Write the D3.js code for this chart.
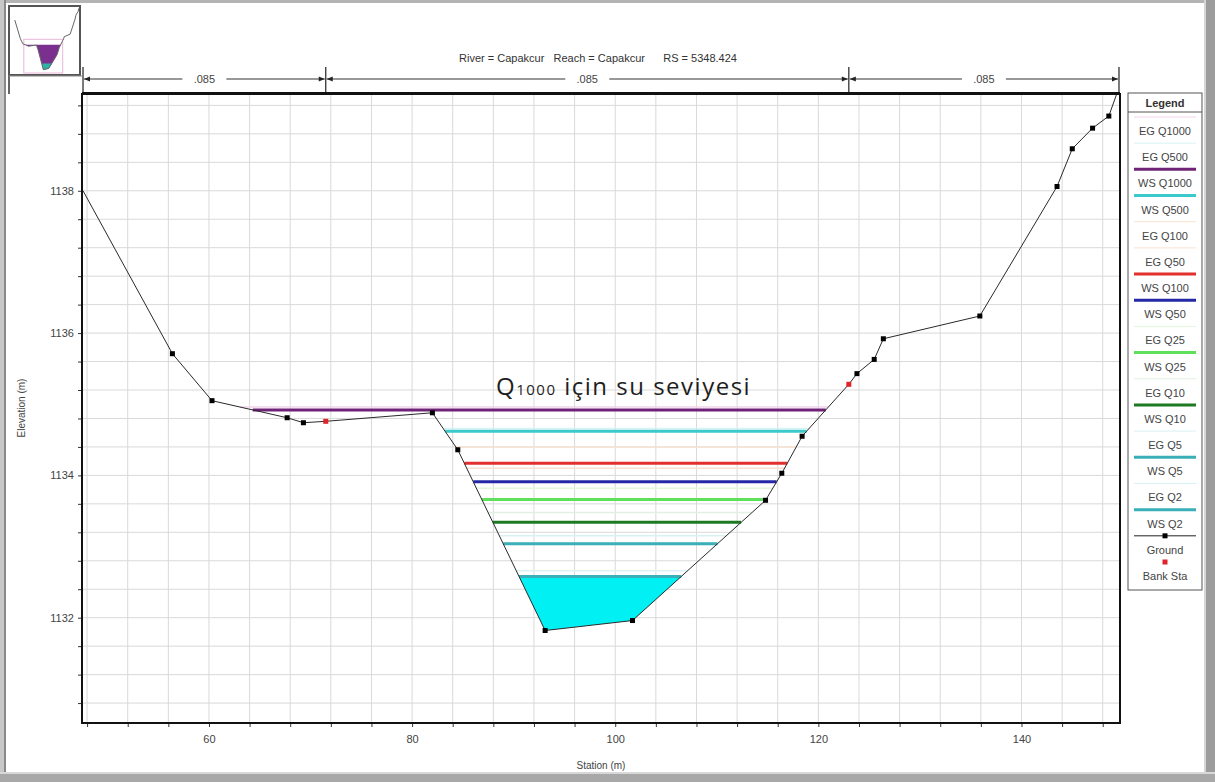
<!DOCTYPE html>
<html>
<head>
<meta charset="utf-8">
<script src="https://cdn.jsdelivr.net/npm/d3@7"></script>
<style>
  html, body { margin: 0; padding: 0; background: #fff; }
  svg { display: block; font-family: "Liberation Sans", Arial, sans-serif; }
</style>
</head>
<body>
<svg id="chart" width="1215" height="782"></svg>
<script>
// Cross-section ground survey (station m, elevation m)
const stations   = [47.6, 56.4, 60.3, 67.7, 69.3, 71.5, 82.0, 84.5, 93.1, 101.7, 114.8, 116.4, 118.4, 123.0, 123.8, 125.5, 126.4, 135.9, 143.5, 145.0, 147.0, 148.6, 149.6];
const elevations = [1138.00, 1135.71, 1135.05, 1134.81, 1134.74, 1134.76, 1134.88, 1134.36, 1131.82, 1131.96, 1133.65, 1134.03, 1134.55, 1135.28, 1135.43, 1135.63, 1135.92, 1136.24, 1138.06, 1138.59, 1138.88, 1139.05, 1139.45];
const bankStations = [71.5, 123.0];

// Manning's n segments
const nBreaks = [47.6, 71.5, 123.0, 149.6];
const nValues = [".085", ".085", ".085"];

// Water surface profiles (m)
const wsNames  = ["WS Q1000", "WS Q500", "WS Q100", "WS Q50", "WS Q25", "WS Q10", "WS Q5", "WS Q2"];
const wsLevels = [1134.92, 1134.62, 1134.17, 1133.91, 1133.66, 1133.34, 1133.04, 1132.58];
const wsColors = ["#6e2377", "#3cc9cc", "#e2302e", "#2428a6", "#5ee05a", "#1d7a22", "#3aafb8", "#3aafb8"];

// Energy grade lines (m)
const egNames  = ["EG Q1000", "EG Q500", "EG Q100", "EG Q50", "EG Q25", "EG Q10", "EG Q5", "EG Q2"];
const egLevels = [1134.96, 1134.66, 1134.40, 1134.10, 1133.82, 1133.48, 1133.15, 1132.66];
const egColors = ["#f3d3ec", "#d6f4f4", "#f8e2cf", "#f8e2cf", "#e2f7dc", "#e2f0e2", "#d9f1f3", "#d9f1f3"];

// Legend order
const legendItems = [
  {name: "EG Q1000", type: "eg", i: 0}, {name: "EG Q500", type: "eg", i: 1},
  {name: "WS Q1000", type: "ws", i: 0}, {name: "WS Q500", type: "ws", i: 1},
  {name: "EG Q100", type: "eg", i: 2}, {name: "EG Q50", type: "eg", i: 3},
  {name: "WS Q100", type: "ws", i: 2}, {name: "WS Q50", type: "ws", i: 3},
  {name: "EG Q25", type: "eg", i: 4}, {name: "WS Q25", type: "ws", i: 4},
  {name: "EG Q10", type: "eg", i: 5}, {name: "WS Q10", type: "ws", i: 5},
  {name: "EG Q5", type: "eg", i: 6}, {name: "WS Q5", type: "ws", i: 6},
  {name: "EG Q2", type: "eg", i: 7}, {name: "WS Q2", type: "ws", i: 7},
  {name: "Ground", type: "ground"}, {name: "Bank Sta", type: "bank"}
];

const xTicksMajor = [60, 80, 100, 120, 140];
const yTicksMajor = [1132, 1134, 1136, 1138];

const titleText = "River = Capakcur   Reach = Capakcur      RS = 5348.424";

const svg = d3.select("#chart");
const W = 1215, H = 782;
const plot = {left: 82, top: 94, right: 1120, bottom: 723};

const x = d3.scaleLinear().domain([47.5, 149.7]).range([plot.left, plot.right]);
const y = d3.scaleLinear().domain([1130.52, 1139.36]).range([plot.bottom, plot.top]);

const ground = stations.map((s, i) => ({s, z: elevations[i]}));
const groundAt = s => {
  for (let i = 0; i < ground.length - 1; i++) {
    const a = ground[i], b = ground[i + 1];
    if (s >= a.s && s <= b.s) return a.z + (b.z - a.z) * (s - a.s) / (b.s - a.s);
  }
  return ground[ground.length - 1].z;
};

// Find the wetted extent of a level, walking outward from the thalweg
const iMin = d3.minIndex(ground, d => d.z);
function extent(level) {
  let l = iMin; while (l > 0 && ground[l - 1].z < level) l--;
  let r = iMin; while (r < ground.length - 1 && ground[r + 1].z < level) r++;
  let sl = ground[0].s, sr = ground[ground.length - 1].s;
  if (l > 0) { const a = ground[l - 1], b = ground[l]; sl = a.s + (a.z - level) / (a.z - b.z) * (b.s - a.s); }
  if (r < ground.length - 1) { const a = ground[r], b = ground[r + 1]; sr = a.s + (level - a.z) / (b.z - a.z) * (b.s - a.s); }
  return {sl, sr, l, r};
}

// ---------- window frame ----------
svg.append("rect").attr("x", 0).attr("y", 0).attr("width", W).attr("height", H).attr("fill", "#fff");
svg.append("rect").attr("x", 0).attr("y", 0).attr("width", W).attr("height", 3).attr("fill", "#b4b4b4");
svg.append("rect").attr("x", 0).attr("y", 0).attr("width", 4).attr("height", H).attr("fill", "#c8c8c8");
svg.append("rect").attr("x", 4).attr("y", 0).attr("width", 2).attr("height", H).attr("fill", "#8a8a8a");
svg.append("rect").attr("x", 1206).attr("y", 0).attr("width", 9).attr("height", H).attr("fill", "#9c9c9c");
svg.append("rect").attr("x", 1204).attr("y", 0).attr("width", 2).attr("height", H).attr("fill", "#d6d6d6");
svg.append("rect").attr("x", 0).attr("y", 774).attr("width", W).attr("height", 8).attr("fill", "#a8a8a8");
svg.append("rect").attr("x", 0).attr("y", 772).attr("width", W).attr("height", 2).attr("fill", "#d8d8d8");

// ---------- thumbnail ----------
const thumb = {left: 9, top: 6, right: 80, bottom: 75};
svg.append("rect").attr("x", thumb.left).attr("y", thumb.top)
  .attr("width", thumb.right - thumb.left).attr("height", thumb.bottom - thumb.top)
  .attr("fill", "#fff").attr("stroke", "#555").attr("stroke-width", 2);
svg.append("line").attr("x1", thumb.left).attr("x2", thumb.left).attr("y1", thumb.bottom).attr("y2", 94)
  .attr("stroke", "#666").attr("stroke-width", 2);
svg.append("line").attr("x1", thumb.left).attr("x2", plot.left).attr("y1", thumb.bottom + 1).attr("y2", thumb.bottom + 1)
  .attr("stroke", "#888").attr("stroke-width", 1);
const tx = d3.scaleLinear().domain([40, 150]).range([thumb.left + 1, thumb.right - 1]);
const ty = d3.scaleLinear().domain([1131.4, 1139.5]).range([thumb.bottom - 2, thumb.top + 2]);
{
  const e = extent(wsLevels[0]);
  const pts = [{s: e.sl, z: wsLevels[0]}].concat(ground.slice(e.l, e.r + 1)).concat([{s: e.sr, z: wsLevels[0]}]);
  svg.append("path").attr("d", d3.line().x(d => tx(d.s)).y(d => ty(d.z))(pts) + "Z").attr("fill", "#7b2f8e");
  const e2 = extent(wsLevels[7]);
  const pts2 = [{s: e2.sl, z: wsLevels[7]}].concat(ground.slice(e2.l, e2.r + 1)).concat([{s: e2.sr, z: wsLevels[7]}]);
  svg.append("path").attr("d", d3.line().x(d => tx(d.s)).y(d => ty(d.z))(pts2) + "Z").attr("fill", "#2fb3a8");
  svg.append("rect").attr("x", tx(62)).attr("y", ty(1135.6)).attr("width", tx(124) - tx(62)).attr("height", ty(1131.4) - ty(1135.6))
    .attr("fill", "none").attr("stroke", "#e8b7d8").attr("stroke-width", 1);
  svg.append("path").attr("d", d3.line().x(d => tx(d.s)).y(d => ty(d.z))(ground))
    .attr("fill", "none").attr("stroke", "#666").attr("stroke-width", 1);
}

// ---------- title ----------
svg.append("text").attr("x", 598).attr("y", 62).attr("text-anchor", "middle")
  .attr("font-size", 11).attr("fill", "#333").attr("xml:space", "preserve").text(titleText);

// ---------- Manning's n bar ----------
const nY = 79;
const defs = svg.append("defs");
defs.append("marker").attr("id", "arr").attr("viewBox", "0 0 10 10").attr("refX", 10).attr("refY", 5)
  .attr("markerWidth", 7).attr("markerHeight", 6).attr("orient", "auto-start-reverse")
  .append("path").attr("d", "M0,1 L10,5 L0,9 Z").attr("fill", "#222");
nBreaks.forEach(s => {
  svg.append("line").attr("x1", x(s)).attr("x2", x(s)).attr("y1", 67).attr("y2", 92)
    .attr("stroke", "#222").attr("stroke-width", 1.2);
});
nValues.forEach((v, i) => {
  const a = x(nBreaks[i]) + 1, b = x(nBreaks[i + 1]) - 1, m = (a + b) / 2;
  svg.append("line").attr("x1", m - 22).attr("x2", a).attr("y1", nY).attr("y2", nY)
    .attr("stroke", "#333").attr("stroke-width", 1).attr("marker-end", "url(#arr)");
  svg.append("line").attr("x1", m + 22).attr("x2", b).attr("y1", nY).attr("y2", nY)
    .attr("stroke", "#333").attr("stroke-width", 1).attr("marker-end", "url(#arr)");
  svg.append("text").attr("x", m).attr("y", nY + 4).attr("text-anchor", "middle")
    .attr("font-size", 11).attr("fill", "#444").text(v);
});

// ---------- grid ----------
const clip = defs.append("clipPath").attr("id", "plotclip");
clip.append("rect").attr("x", plot.left).attr("y", plot.top).attr("width", plot.right - plot.left).attr("height", plot.bottom - plot.top);

const gGrid = svg.append("g");
const xMinor = d3.range(48, 150, 4);
const yMinor = d3.range(1130.8, 1139.3, 0.4);
gGrid.selectAll("line.v").data(xMinor).join("line")
  .attr("x1", d => x(d)).attr("x2", d => x(d)).attr("y1", plot.top).attr("y2", plot.bottom)
  .attr("stroke", "#d9d9d9").attr("stroke-width", 1);
gGrid.selectAll("line.h").data(yMinor).join("line")
  .attr("x1", plot.left).attr("x2", plot.right).attr("y1", d => y(d)).attr("y2", d => y(d))
  .attr("stroke", "#d9d9d9").attr("stroke-width", 1);

// ---------- axes ----------
const xAxis = d3.axisBottom(x).tickValues(xMinor).tickSize(4)
  .tickFormat(d => xTicksMajor.includes(d) ? d : "");
const gx = svg.append("g").attr("transform", `translate(0,${plot.bottom})`).call(xAxis);
gx.select(".domain").remove();
gx.selectAll("line").attr("stroke", "#333");
gx.selectAll("text").attr("font-size", 11).attr("fill", "#444").attr("dy", "1.2em")
  .attr("font-family", "Liberation Sans, Arial, sans-serif");

const yAxis = d3.axisLeft(y).tickValues(yMinor).tickSize(4)
  .tickFormat(d => yTicksMajor.some(t => Math.abs(t - d) < 1e-6) ? d3.format("d")(Math.round(d)) : "");
const gy = svg.append("g").attr("transform", `translate(${plot.left},0)`).call(yAxis);
gy.select(".domain").remove();
gy.selectAll("line").attr("stroke", "#333");
gy.selectAll("text").attr("font-size", 11).attr("fill", "#444").attr("dx", "-0.1em")
  .attr("font-family", "Liberation Sans, Arial, sans-serif");

svg.append("text").attr("x", 601).attr("y", 769).attr("text-anchor", "middle")
  .attr("font-size", 10).attr("fill", "#444").text("Station (m)");
svg.append("text").attr("transform", `translate(25,408) rotate(-90)`).attr("text-anchor", "middle")
  .attr("font-size", 10).attr("fill", "#444").text("Elevation (m)");

// ---------- data marks ----------
const gData = svg.append("g").attr("clip-path", "url(#plotclip)");

// Fill for the lowest profile
{
  const lvl = wsLevels[7], e = extent(lvl);
  const pts = [{s: e.sl, z: lvl}].concat(ground.slice(e.l, e.r + 1)).concat([{s: e.sr, z: lvl}]);
  gData.append("path").attr("d", d3.line().x(d => x(d.s)).y(d => y(d.z))(pts) + "Z")
    .attr("fill", "#00f0f4");
}

// Energy grade lines
egLevels.forEach((lvl, i) => {
  const e = extent(lvl);
  gData.append("line").attr("x1", x(e.sl)).attr("x2", x(e.sr)).attr("y1", y(lvl)).attr("y2", y(lvl))
    .attr("stroke", egColors[i]).attr("stroke-width", 1.5);
});

// Water surface lines
wsLevels.forEach((lvl, i) => {
  const e = extent(lvl);
  gData.append("line").attr("x1", x(e.sl)).attr("x2", x(e.sr)).attr("y1", y(lvl)).attr("y2", y(lvl))
    .attr("stroke", wsColors[i]).attr("stroke-width", 3);
});

// Ground line and survey points
gData.append("path").attr("d", d3.line().x(d => x(d.s)).y(d => y(d.z))(ground))
  .attr("fill", "none").attr("stroke", "#2a2a2a").attr("stroke-width", 1);
gData.selectAll("rect.pt").data(ground.filter(d => !bankStations.includes(d.s) && d.s > 48 && d.s < 149.5)).join("rect")
  .attr("x", d => x(d.s) - 2.5).attr("y", d => y(d.z) - 2.5).attr("width", 5).attr("height", 5)
  .attr("fill", "#000");
gData.selectAll("rect.bank").data(bankStations).join("rect")
  .attr("x", d => x(d) - 2.5).attr("y", d => y(groundAt(d)) - 2.5).attr("width", 5).attr("height", 5)
  .attr("fill", "#e0252a");

// Plot frame
svg.append("rect").attr("x", plot.left).attr("y", plot.top).attr("width", plot.right - plot.left).attr("height", plot.bottom - plot.top)
  .attr("fill", "none").attr("stroke", "#111").attr("stroke-width", 2);
svg.append("line").attr("x1", plot.left).attr("x2", plot.right).attr("y1", plot.top - 1).attr("y2", plot.top - 1)
  .attr("stroke", "#111").attr("stroke-width", 2);

// ---------- annotation ----------
const ann = svg.append("text").attr("x", 496).attr("y", 395).attr("font-family", "'Open Sans', Lato, sans-serif")
  .attr("font-size", 24).attr("letter-spacing", 1.5).attr("fill", "#1e1e1e");
ann.append("tspan").text("Q");
ann.append("tspan").attr("font-size", 15).text("1000");
ann.append("tspan").attr("xml:space", "preserve").text(" için su seviyesi");

// ---------- legend ----------
const lg = {left: 1128, top: 93, right: 1202, bottom: 590};
svg.append("rect").attr("x", lg.left).attr("y", lg.top).attr("width", lg.right - lg.left).attr("height", lg.bottom - lg.top)
  .attr("fill", "#fff").attr("stroke", "#555").attr("stroke-width", 1);
svg.append("text").attr("x", (lg.left + lg.right) / 2).attr("y", 107).attr("text-anchor", "middle")
  .attr("font-size", 11).attr("font-weight", "bold").attr("fill", "#333").text("Legend");
svg.append("line").attr("x1", lg.left).attr("x2", lg.right).attr("y1", 112).attr("y2", 112)
  .attr("stroke", "#555").attr("stroke-width", 1);

const ly = d3.scaleLinear().domain([0, legendItems.length - 1]).range([131, 576]);
legendItems.forEach((it, k) => {
  const cy = ly(k), sy = cy - 14, cx = (lg.left + lg.right) / 2;
  if (it.type === "ws") {
    svg.append("line").attr("x1", lg.left + 6).attr("x2", lg.right - 6).attr("y1", sy).attr("y2", sy)
      .attr("stroke", wsColors[it.i]).attr("stroke-width", 3);
  } else if (it.type === "eg") {
    svg.append("line").attr("x1", lg.left + 6).attr("x2", lg.right - 6).attr("y1", sy).attr("y2", sy)
      .attr("stroke", egColors[it.i]).attr("stroke-width", 1);
  } else if (it.type === "ground") {
    svg.append("line").attr("x1", lg.left + 6).attr("x2", lg.right - 6).attr("y1", sy).attr("y2", sy)
      .attr("stroke", "#222").attr("stroke-width", 1);
    svg.append("rect").attr("x", cx - 2.5).attr("y", sy - 2.5).attr("width", 5).attr("height", 5).attr("fill", "#000");
  } else if (it.type === "bank") {
    svg.append("rect").attr("x", cx - 2.5).attr("y", sy - 2.5).attr("width", 5).attr("height", 5).attr("fill", "#e0252a");
  }
  svg.append("text").attr("x", cx).attr("y", cy + 4).attr("text-anchor", "middle")
    .attr("font-size", 11).attr("fill", "#444").text(it.name);
});
</script>
</body>
</html>
